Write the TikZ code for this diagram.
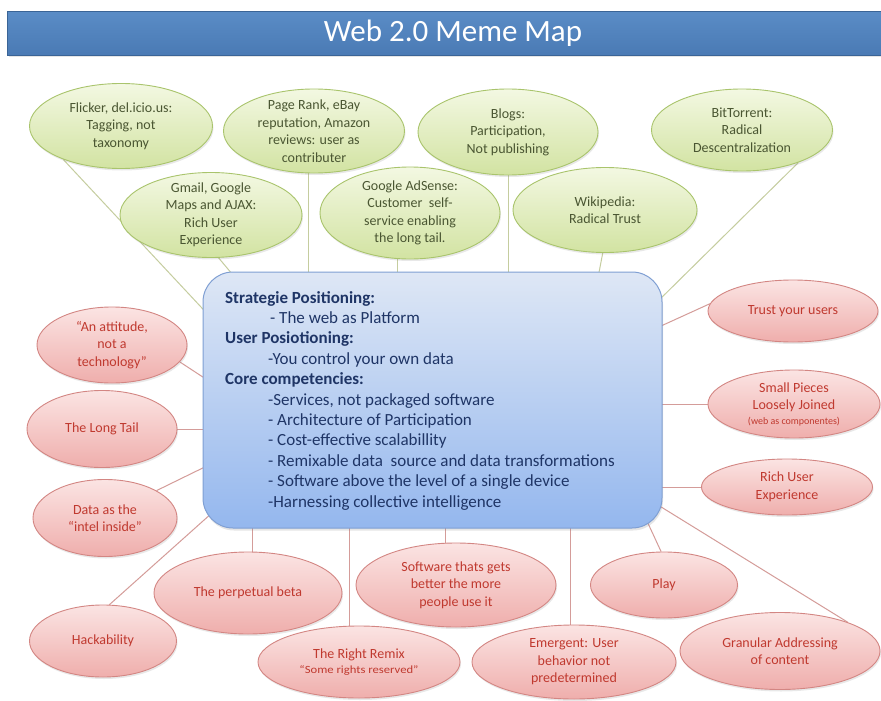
\documentclass[tikz,border=0pt]{standalone}
\usepackage{fontspec}
\setmainfont{Carlito}
\usetikzlibrary{shapes.geometric,shadows,calc}
\pgfdeclarelayer{background}
\pgfdeclarelayer{paper}
\pgfsetlayers{paper,background,main}

\definecolor{gfillT}{HTML}{F3F8E2}
\definecolor{gfillB}{HTML}{D2E3A2}
\definecolor{gdraw}{HTML}{A9C46C}
\definecolor{gtext}{HTML}{4A5632}
\definecolor{glinec}{HTML}{C5CD9F}
\definecolor{rfillT}{HTML}{FBE4E3}
\definecolor{rfillB}{HTML}{EFAEAC}
\definecolor{rdraw}{HTML}{D38683}
\definecolor{rtext}{HTML}{C0392F}
\definecolor{rlinec}{HTML}{D49C99}
\definecolor{bfillT}{HTML}{DEE7F5}
\definecolor{bfillB}{HTML}{94B7EE}
\definecolor{bdraw}{HTML}{7F9FD3}
\definecolor{btext}{HTML}{1F3566}
\definecolor{titleT}{HTML}{5A8CC6}
\definecolor{titleB}{HTML}{4A7AB4}
\definecolor{titleD}{HTML}{3A6496}

\tikzset{
  memeg/.style={ellipse, draw=gdraw, line width=0.9pt, top color=gfillT, bottom color=gfillB,
    inner sep=0pt, drop shadow={opacity=0.18, shadow xshift=1pt, shadow yshift=-2pt}},
  memegtxt/.style={align=center, inner sep=0pt, text=gtext, font=\fontsize{14}{17.5}\selectfont},
  memer/.style={ellipse, draw=rdraw, line width=0.9pt, top color=rfillT, bottom color=rfillB,
    inner sep=0pt, drop shadow={opacity=0.18, shadow xshift=1pt, shadow yshift=-2pt}},
  memertxt/.style={align=center, inner sep=0pt, text=rtext, font=\fontsize{14}{17.5}\selectfont},
  gcon/.style={draw=glinec, line width=1pt},
  rcon/.style={draw=rlinec, line width=1pt},
  boxline/.style={anchor=base west, inner sep=0pt, text=btext, font=\fontsize{17}{20}\selectfont},
}

\newcommand{\meme}[7]{%
  \node[#1, minimum width=#5pt, minimum height=#6pt] (#2) at (#3,#4) {};
  \node[#1txt] (#2t) at (#2) {#7};}

\begin{document}
\begin{tikzpicture}[x=1pt,y=-1pt]
\useasboundingbox (0,0) rectangle (881,701);
\begin{pgfonlayer}{paper}
\fill[white] (0,0) rectangle (881,701);
\end{pgfonlayer}

% title
\node[draw=titleD, line width=1pt, top color=titleT, bottom color=titleB, minimum width=880pt,
  minimum height=44pt, anchor=north west, inner sep=0pt,
  drop shadow={opacity=0.2, shadow xshift=1pt, shadow yshift=-2pt}] (titlebar) at (7,11) {};
\node[text=white, font=\fontsize{31}{36}\selectfont, inner sep=0pt] (titletext) at (453,33) {Web 2.0 Meme Map};

% central box
\node[draw=bdraw, line width=1pt, rounded corners=30pt, top color=bfillT, bottom color=bfillB,
  minimum width=459pt, minimum height=256pt, inner sep=0pt,
  drop shadow={opacity=0.2, shadow xshift=1pt, shadow yshift=-2.5pt}] (box) at (432.5,400) {};
\node[boxline] (c1) at (225,303) {\textbf{Strategie Positioning:}};
\node[boxline] (c2) at (270,323.4) {- The web as Platform};
\node[boxline] (c3) at (225,343.8) {\textbf{User Posiotioning:}};
\node[boxline] (c4) at (268,364.2) {-You control your own data};
\node[boxline] (c5) at (225,384.6) {\textbf{Core competencies:}};
\node[boxline] (c6) at (268,405) {-Services, not packaged software};
\node[boxline] (c7) at (268,425.4) {- Architecture of Participation};
\node[boxline] (c8) at (268,445.8) {- Cost-effective scalabillity};
\node[boxline] (c9) at (268,466.2) {- Remixable data\ \ source and data transformations};
\node[boxline] (c10) at (268,486.6) {- Software above the level of a single device};
\node[boxline] (c11) at (268,507) {-Harnessing collective intelligence};

% green memes
\meme{memeg}{flicker}{121}{126}{183}{85}{Flicker, del.icio.us:\\Tagging, not\\taxonomy}
\meme{memeg}{pagerank}{314}{131}{181}{84}{Page Rank, eBay\\reputation, Amazon\\reviews: user as\\contributer}
\meme{memeg}{blogs}{508}{132}{180}{86}{Blogs:\\Participation,\\Not publishing}
\meme{memeg}{bittorrent}{742}{130}{181}{82}{BitTorrent:\\Radical\\Descentralization}
\meme{memeg}{gmail}{211}{215}{182}{85}{Gmail, Google\\Maps and AJAX:\\Rich User\\Experience}
\meme{memeg}{adsense}{410}{213}{180}{92}{Google AdSense:\\Customer\ \ self-\\service enabling\\the long tail.}
\meme{memeg}{wiki}{605}{210}{184}{85}{Wikipedia:\\Radical Trust}

% red memes
\meme{memer}{attitude}{112}{345}{150}{76}{“An attitude,\\not a\\technology”}
\meme{memer}{longtail}{102}{429}{150}{77}{The Long Tail}
\meme{memer}{data}{105}{518}{144}{77}{Data as the\\“intel inside”}
\meme{memer}{hack}{103}{641}{147}{72}{Hackability}
\meme{memer}{trust}{793}{311}{170}{62}{Trust your users}
\meme{memer}{small}{794}{404}{172}{68}{Small Pieces\\Loosely Joined\\[-3pt]{\fontsize{10}{11}\selectfont (web as componentes)}}
\meme{memer}{rich}{787}{487}{171}{56}{Rich User\\Experience}
\meme{memer}{granular}{780}{651}{200}{77}{Granular Addressing\\of content}
\meme{memer}{play}{664}{585}{147}{66}{Play}
\meme{memer}{beta}{248}{593}{188}{82}{The perpetual beta}
\meme{memer}{software}{456}{585}{200}{84}{Software thats gets\\better the more\\people use it}
\meme{memer}{remix}{359}{662}{202}{72}{The Right Remix\\[-2pt]{\fontsize{11}{12}\selectfont\scalebox{1.15}[1]{“Some rights reserved”}}}
\meme{memer}{emergent}{574}{662}{204}{74}{Emergent: User\\behavior not\\predetermined}

% attach points inside the central box
\coordinate (kflicker) at (215,322);
\coordinate (kgmail) at (248,293);
\coordinate (kwiki) at (596,288);
\coordinate (kbt) at (650,309);
\coordinate (katt) at (215,385);
\coordinate (kdata) at (215,462);
\coordinate (khack) at (222,504);
\coordinate (kplay) at (640,506);
\coordinate (kgran) at (645,497);
\coordinate (ktrust) at (650,331);

\begin{pgfonlayer}{background}
  \draw[gcon] (flicker.210) -- (kflicker);
  \draw[gcon] (gmail.-80) -- (kgmail);
  \draw[gcon] ([xshift=-6pt]pagerank.center) -- ++(0,150);
  \draw[gcon] ([xshift=-13pt]adsense.center) -- ++(0,75);
  \draw[gcon] (blogs.center) -- ++(0,155);
  \draw[gcon] (wiki.-93) -- (kwiki);
  \draw[gcon] (bittorrent.-30) -- (kbt);

  \draw[rcon] (attitude.-14) -- (katt);
  \draw[rcon] (longtail.center) -- ++(120,0);
  \draw[rcon] (data.28) -- (kdata);
  \draw[rcon] (hack.80) -- (khack);
  \draw[rcon] ([xshift=4pt]beta.center) -- ++(0,-80);
  \draw[rcon] ([xshift=-10pt]remix.center) -- ++(0,-150);
  \draw[rcon] ([xshift=-11pt]software.center) -- ++(0,-75);
  \draw[rcon] ([xshift=-4pt]emergent.center) -- ++(0,-150);
  \draw[rcon] (play.95) -- (kplay);
  \draw[rcon] (granular.23) -- (kgran);
  \draw[rcon] (rich.center) -- ++(-140,0);
  \draw[rcon] (small.center) -- ++(-140,0);
  \draw[rcon] (trust.175) -- (ktrust);
\end{pgfonlayer}
\end{tikzpicture}
\end{document}
